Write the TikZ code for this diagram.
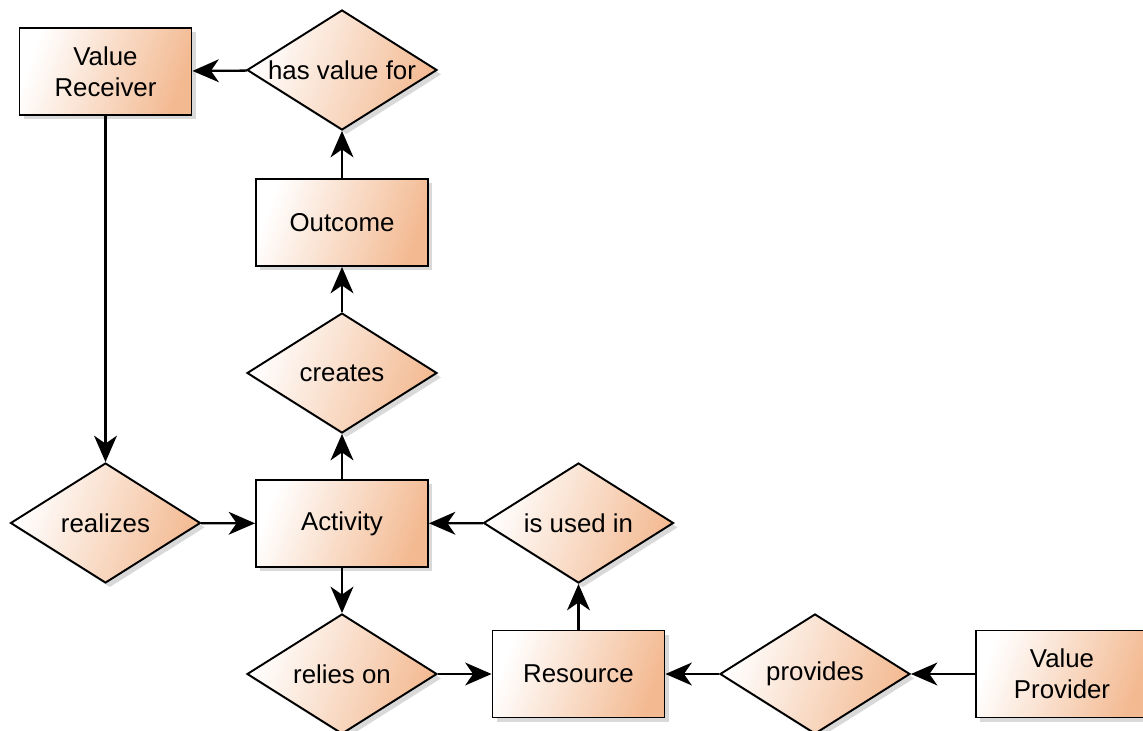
\documentclass[tikz,border=0pt]{standalone}
\usepackage{fontspec}
\setmainfont{Liberation Sans}
\usetikzlibrary{shapes,arrows.meta,shadows}
\definecolor{peach}{RGB}{243,186,146}

\begin{document}
\begin{tikzpicture}[
  concept/.style={draw, line width=1.1pt, font=\fontsize{14.7}{17.6}\selectfont, align=center,
    left color=white, right color=peach, shading angle=70,
    drop shadow={shadow xshift=2.5pt, shadow yshift=-2.5pt, opacity=0.3}},
  entity/.style={concept, rectangle, minimum width=3.44cm, minimum height=1.74cm},
  relation/.style={concept, diamond, aspect=1.58, inner sep=0pt, minimum width=3.8cm, minimum height=2.4cm},
  ptr/.style={-{Stealth[length=15pt, width=13pt, inset=4.5pt]}, line width=1.3pt}
]
\useasboundingbox (0,0) rectangle (22.86,-14.62);
\node[entity] (receiver) at (2.11,-1.43) {Value\\Receiver};
\node[relation] (hasvalue) at (6.84,-1.40) {has value for};
\node[entity] (outcome) at (6.84,-4.45) {Outcome};
\node[relation] (creates) at (6.84,-7.46) {creates};
\node[entity] (activity) at (6.84,-10.47) {Activity};
\node[relation] (realizes) at (2.11,-10.46) {realizes};
\node[relation] (usedin) at (11.57,-10.46) {is used in};
\node[relation] (relies) at (6.84,-13.48) {relies on};
\node[entity] (resource) at (11.57,-13.48) {Resource};
\node[relation] (provides) at (16.30,-13.48) {provides};
\node[entity] (provider) at (21.24,-13.48) {Value\\Provider};
\draw[ptr] (hasvalue) -- (receiver);
\draw[ptr] (outcome) -- (hasvalue);
\draw[ptr] (creates) -- (outcome);
\draw[ptr] (activity) -- (creates);
\draw[ptr] (receiver) -- (realizes);
\draw[ptr] (realizes) -- (activity);
\draw[ptr] (usedin) -- (activity);
\draw[ptr] (activity) -- (relies);
\draw[ptr] (relies) -- (resource);
\draw[ptr] (resource) -- (usedin);
\draw[ptr] (provides) -- (resource);
\draw[ptr] (provider) -- (provides);
\end{tikzpicture}
\end{document}
